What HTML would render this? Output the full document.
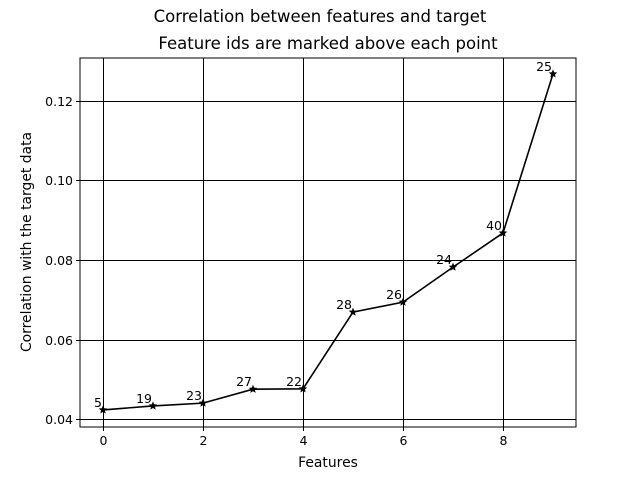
<!DOCTYPE html>
<html><head><meta charset="utf-8"><style>
body{margin:0;background:#fff;}
svg{font-family:"DejaVu Sans","Liberation Sans",sans-serif;}
</style></head><body>
<svg id="chart" width="640" height="480" viewBox="0 0 640 480">
<rect width="640" height="480" fill="#fff"/>
<text x="320" y="22" text-anchor="middle" font-size="16.5">Correlation between features and target</text>
<text x="328" y="49" text-anchor="middle" font-size="16.5">Feature ids are marked above each point</text>
<g id="grid"></g><g id="ticks"></g><g id="series"></g>
<rect x="80" y="58" width="496" height="369" fill="none" stroke="#000" stroke-width="1"/>
<text x="328" y="467" text-anchor="middle" font-size="13.9">Features</text>
<text transform="translate(31,242) rotate(-90)" text-anchor="middle" font-size="13.9">Correlation with the target data</text>
</svg>
<script>
const xIndex=[0,1,2,3,4,5,6,7,8,9];
const featureIds=["5","19","23","27","22","28","26","24","40","25"];
const corrValues=[0.0423,0.0433,0.0440,0.0475,0.0476,0.0669,0.0694,0.0782,0.0868,0.1268];
const xTicks=[0,2,4,6,8];
const yTicks=[0.04,0.06,0.08,0.10,0.12];
const yTickLabels=["0.04","0.06","0.08","0.10","0.12"];
const L=80,R=576,T=58,B=427,xMin=-0.46,xMax=9.46,yMin=0.038,yMax=0.1308;
const sx=v=>L+(v-xMin)/(xMax-xMin)*(R-L);
const sy=v=>B-(v-yMin)/(yMax-yMin)*(B-T);
const NS="http://www.w3.org/2000/svg";
function mk(tag,attrs,parent){const e=document.createElementNS(NS,tag);for(const k in attrs)e.setAttribute(k,attrs[k]);parent.appendChild(e);return e;}
const grid=document.getElementById('grid'),ticks=document.getElementById('ticks'),ser=document.getElementById('series');
xTicks.forEach(t=>{const x=Math.round(sx(t))+0.5;
 let g=mk('line',{x1:x,x2:x,y1:T,y2:B,stroke:'#000','stroke-width':1},grid);
 
 mk('line',{x1:x,x2:x,y1:B,y2:B+4,stroke:'#000'},ticks);
 let tx=mk('text',{x:x,y:B+18,'text-anchor':'middle','font-size':12.5},ticks);tx.textContent=t;
 });
yTicks.forEach((t,i)=>{const y=Math.round(sy(t))+0.5;
 let g=mk('line',{x1:L,x2:R,y1:y,y2:y,stroke:'#000','stroke-width':1},grid);
 
 mk('line',{x1:L-4,x2:L,y1:y,y2:y,stroke:'#000'},ticks);
 let tx=mk('text',{x:L-7,y:y+4.5,'text-anchor':'end','font-size':12.5},ticks);tx.textContent=yTickLabels[i];
 });
const pts=xIndex.map((v,i)=>sx(v)+','+sy(corrValues[i])).join(' ');
const line=mk('polyline',{points:pts,fill:'none',stroke:'#000','stroke-width':1.6},ser);


function star(cx,cy,r){let p=[];for(let k=0;k<10;k++){const a=-Math.PI/2+k*Math.PI/5;const rr=k%2?r*0.45:r;p.push((cx+rr*Math.cos(a)).toFixed(2)+','+(cy+rr*Math.sin(a)).toFixed(2));}return p.join(' ');}
xIndex.forEach((v,i)=>{const x=sx(v),y=sy(corrValues[i]);
 const m=mk('polygon',{points:star(x,y,4.5),fill:'#000'},ser);
 
 
 const t=mk('text',{x:x-1,y:y-3,'text-anchor':'end','font-size':12.5},ser);t.textContent=featureIds[i];
 
 });
</script>
</body></html>
